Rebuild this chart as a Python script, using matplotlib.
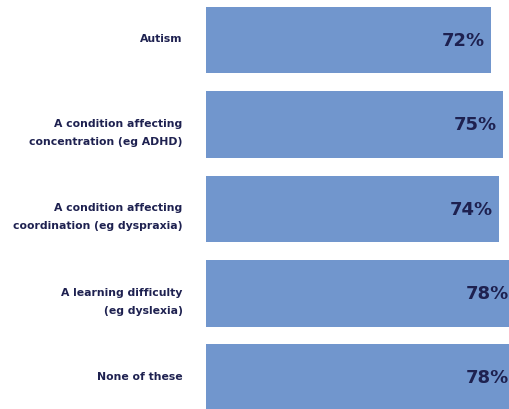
import matplotlib
matplotlib.use('Agg')
import matplotlib.pyplot as plt

# data
categories = ['Autism',
              'A condition affecting\nconcentration (eg ADHD)',
              'A condition affecting\ncoordination (eg dyspraxia)',
              'A learning difficulty\n(eg dyslexia)',
              'None of these']
values = [72, 75, 74, 78, 78]

bar_col = '#7196cd'
txt_col = '#1e2150'

fig = plt.figure(figsize=(5.09, 4.09), dpi=100)
ax = fig.add_axes([206/509, 0, 303/509, 1])

ypos = list(range(len(values)))
ax.barh(ypos, values, height=0.79, color=bar_col)
ax.set_xlim(0, 76.5)
ax.set_ylim(4.37, -0.475)
ax.axis('off')

for y, v in zip(ypos, values):
    ax.annotate('%d%%' % v, xy=(v, y), xytext=(-4.5, -0.5), textcoords='offset points',
                ha='right', va='center', fontsize=13, fontweight='heavy',
                color=txt_col, annotation_clip=False)

# category labels: first line sits level with the bar middle, second line hangs below
for y, c in zip(ypos, categories):
    n_lines = c.count('\n') + 1
    dy = -2.5 if n_lines > 1 else 1.5
    ax.annotate(c, xy=(0, y), xytext=(-17, dy), textcoords='offset points',
                ha='right', va='center_baseline', fontsize=7.8, fontweight='bold',
                color=txt_col, linespacing=2.0, multialignment='right',
                annotation_clip=False)

plt.savefig('out.png', dpi=100)
